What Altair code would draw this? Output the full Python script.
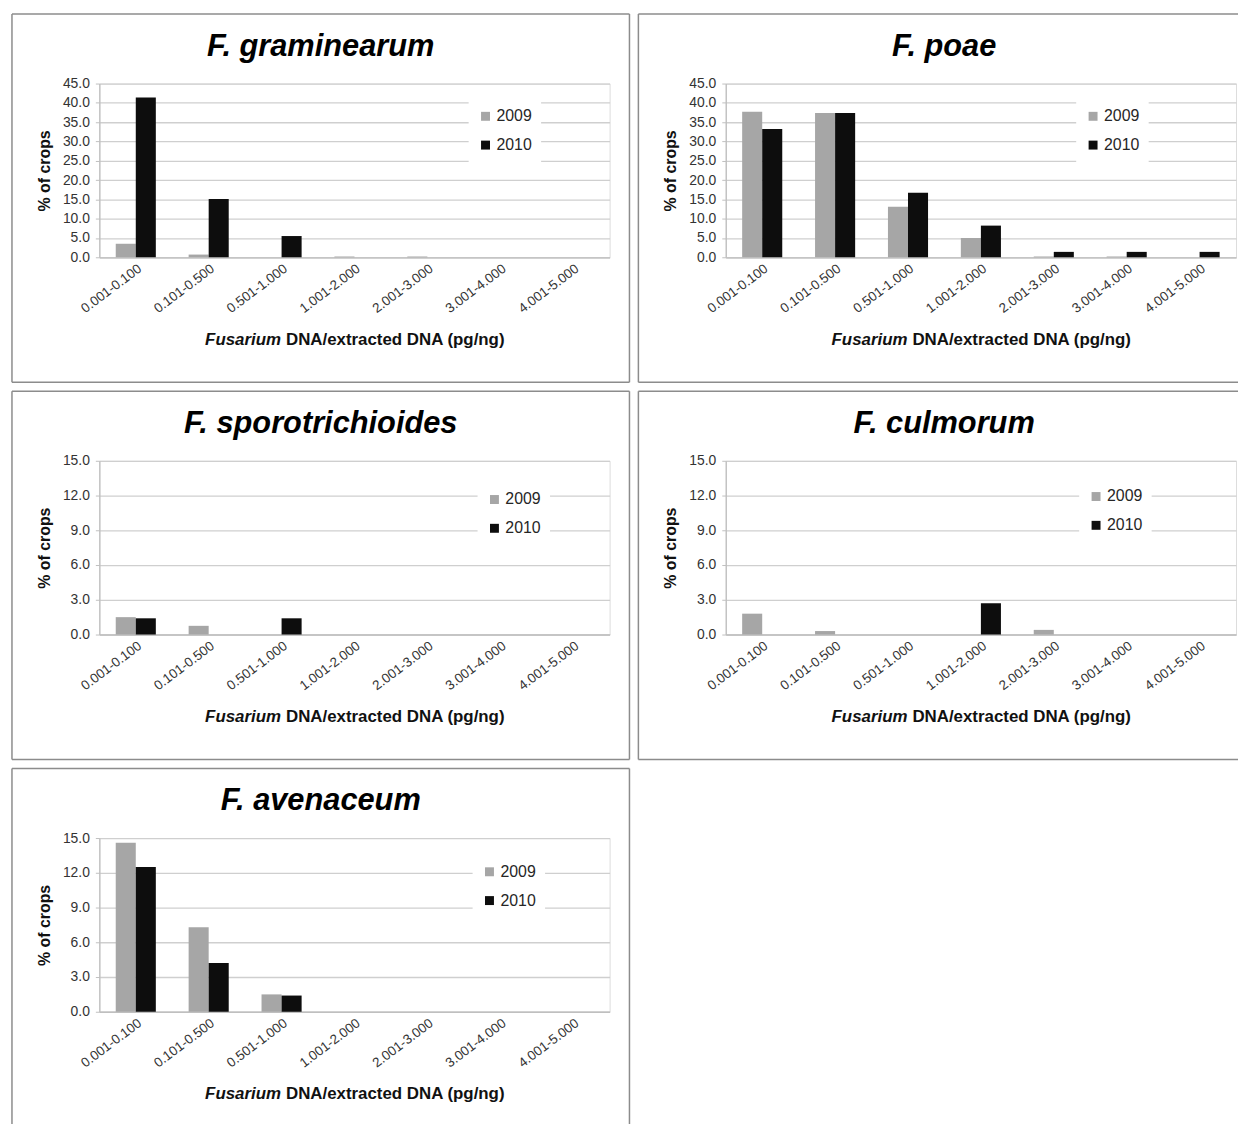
import altair as alt
import pandas as pd

categories = ["0.001-0.100", "0.101-0.500", "0.501-1.000", "1.001-2.000",
              "2.001-3.000", "3.001-4.000", "4.001-5.000"]
years = ["2009", "2010"]

graminearum_2009 = [3.5, 0.7, 0.0, 0.2, 0.2, 0.0, 0.0]
graminearum_2010 = [41.4, 15.1, 5.5, 0.0, 0.0, 0.0, 0.0]
poae_2009 = [37.7, 37.4, 13.1, 5.0, 0.2, 0.2, 0.0]
poae_2010 = [33.2, 37.4, 16.7, 8.2, 1.4, 1.4, 1.4]
sporotrichioides_2009 = [1.5, 0.75, 0.0, 0.0, 0.0, 0.0, 0.0]
sporotrichioides_2010 = [1.4, 0.0, 1.4, 0.0, 0.0, 0.0, 0.0]
culmorum_2009 = [1.8, 0.3, 0.0, 0.0, 0.4, 0.0, 0.0]
culmorum_2010 = [0.0, 0.0, 0.0, 2.7, 0.0, 0.0, 0.0]
avenaceum_2009 = [14.6, 7.3, 1.5, 0.0, 0.0, 0.0, 0.0]
avenaceum_2010 = [12.5, 4.2, 1.4, 0.0, 0.0, 0.0, 0.0]

ticks_45 = [0, 5, 10, 15, 20, 25, 30, 35, 40, 45]
ticks_15 = [0, 3, 6, 9, 12, 15]

FONT = "Liberation Sans"
W, H = 514, 175
GRAY = "#a6a6a6"
BLACK = "#0d0d0d"
FRAME = "#8c8c8c"


def panel(name, v09, v10, ymax, yticks, lx, ly, right, bottom, sides, title_x):
    rows = []
    for c, a, b in zip(categories, v09, v10):
        rows.append({"cat": c, "year": "2009", "pct": a})
        rows.append({"cat": c, "year": "2010", "pct": b})
    df = pd.DataFrame(rows)
    df = df[df["pct"] > 0]

    bars = alt.Chart(df).mark_bar().encode(
        x=alt.X("cat:N", sort=categories,
                scale=alt.Scale(domain=categories, paddingInner=0.45, paddingOuter=0.225),
                axis=alt.Axis(title=None, labelAngle=-37, labelFontSize=13.5, labelColor="#333333",
                              ticks=False, domainColor="#bfbfbf", domainWidth=1.3,
                              labelPadding=4, labelFont=FONT)),
        xOffset=alt.XOffset("year:N", scale=alt.Scale(domain=years, paddingInner=0, paddingOuter=0)),
        y=alt.Y("pct:Q", scale=alt.Scale(domain=[0, ymax], nice=False),
                axis=alt.Axis(values=yticks, format=".1f", title="% of crops",
                              titleFontSize=16, titleFontWeight="bold", titleColor="#111111",
                              titleFont=FONT, titlePadding=10,
                              labelFontSize=14, labelColor="#333333", labelFont=FONT,
                              labelPadding=6, tickSize=4, tickColor="#bfbfbf",
                              domainColor="#bfbfbf", domainWidth=1.3,
                              gridColor="#cfcfcf", gridWidth=1.3)),
        color=alt.Color("year:N", scale=alt.Scale(domain=years, range=[GRAY, BLACK]),
                        legend=alt.Legend(title=None, orient="none", legendX=lx, legendY=ly,
                                          fillColor="white", padding=9, symbolType="square",
                                          symbolSize=81, symbolStrokeWidth=0,
                                          labelFontSize=16, labelFont=FONT, labelColor="#262626",
                                          labelOffset=3, rowPadding=13)),
    )

    one = alt.Data(values=[{}])
    L, T = -88, -70
    frame_layers = []
    side_defs = {
        "top": dict(x=alt.value(L), x2=alt.value(right), y=alt.value(T), y2=alt.value(T)),
        "bottom": dict(x=alt.value(L), x2=alt.value(right), y=alt.value(bottom), y2=alt.value(bottom)),
        "left": dict(x=alt.value(L), x2=alt.value(L), y=alt.value(T), y2=alt.value(bottom)),
        "right": dict(x=alt.value(right), x2=alt.value(right), y=alt.value(T), y2=alt.value(bottom)),
    }
    for s in sides:
        frame_layers.append(
            alt.Chart(one).mark_rule(color=FRAME, strokeWidth=1.5).encode(**side_defs[s])
        )

    title = alt.Chart(one).mark_text(
        font=FONT, fontSize=31, fontWeight="bold", fontStyle="italic",
        align="center", baseline="middle", color="#000000"
    ).encode(x=alt.value(title_x), y=alt.value(-37), text=alt.value(name))

    xt1 = alt.Chart(one).mark_text(
        font=FONT, fontSize=17, fontWeight="bold", fontStyle="italic",
        align="right", baseline="middle", color="#111111"
    ).encode(x=alt.value(183), y=alt.value(H + 83), text=alt.value("Fusarium"))
    xt2 = alt.Chart(one).mark_text(
        font=FONT, fontSize=17, fontWeight="bold",
        align="left", baseline="middle", color="#111111"
    ).encode(x=alt.value(188), y=alt.value(H + 83), text=alt.value("DNA/extracted DNA (pg/ng)"))

    return alt.layer(*frame_layers, bars, title, xt1, xt2).properties(width=W, height=H)


p1 = panel("F. graminearum", graminearum_2009, graminearum_2010, 45, ticks_45,
           372, 16, 534, 301, ["top", "bottom", "left", "right"], 223)
p2 = panel("F. poae", poae_2009, poae_2010, 45, ticks_45,
           353, 16, 516, 301, ["top", "bottom", "left"], 220)
p3 = panel("F. sporotrichioides", sporotrichioides_2009, sporotrichioides_2010, 15, ticks_15,
           381, 22, 534, 301, ["top", "bottom", "left", "right"], 223)
p4 = panel("F. culmorum", culmorum_2009, culmorum_2010, 15, ticks_15,
           356, 19, 516, 301, ["top", "bottom", "left"], 220)
p5 = panel("F. avenaceum", avenaceum_2009, avenaceum_2010, 15, ticks_15,
           376, 17, 534, 288, ["top", "left", "right"], 223)

chart = alt.concat(p1, p2, p3, p4, p5, columns=2, spacing=5, align="each").resolve_scale(
    color="independent", x="independent", y="independent"
).resolve_legend(color="independent").properties(
    padding={"left": 2, "top": 0, "right": 0, "bottom": 0}
).configure_view(strokeWidth=0).configure(background="white")

chart.save("out.html", embed_options={"renderer": "svg", "actions": False})
